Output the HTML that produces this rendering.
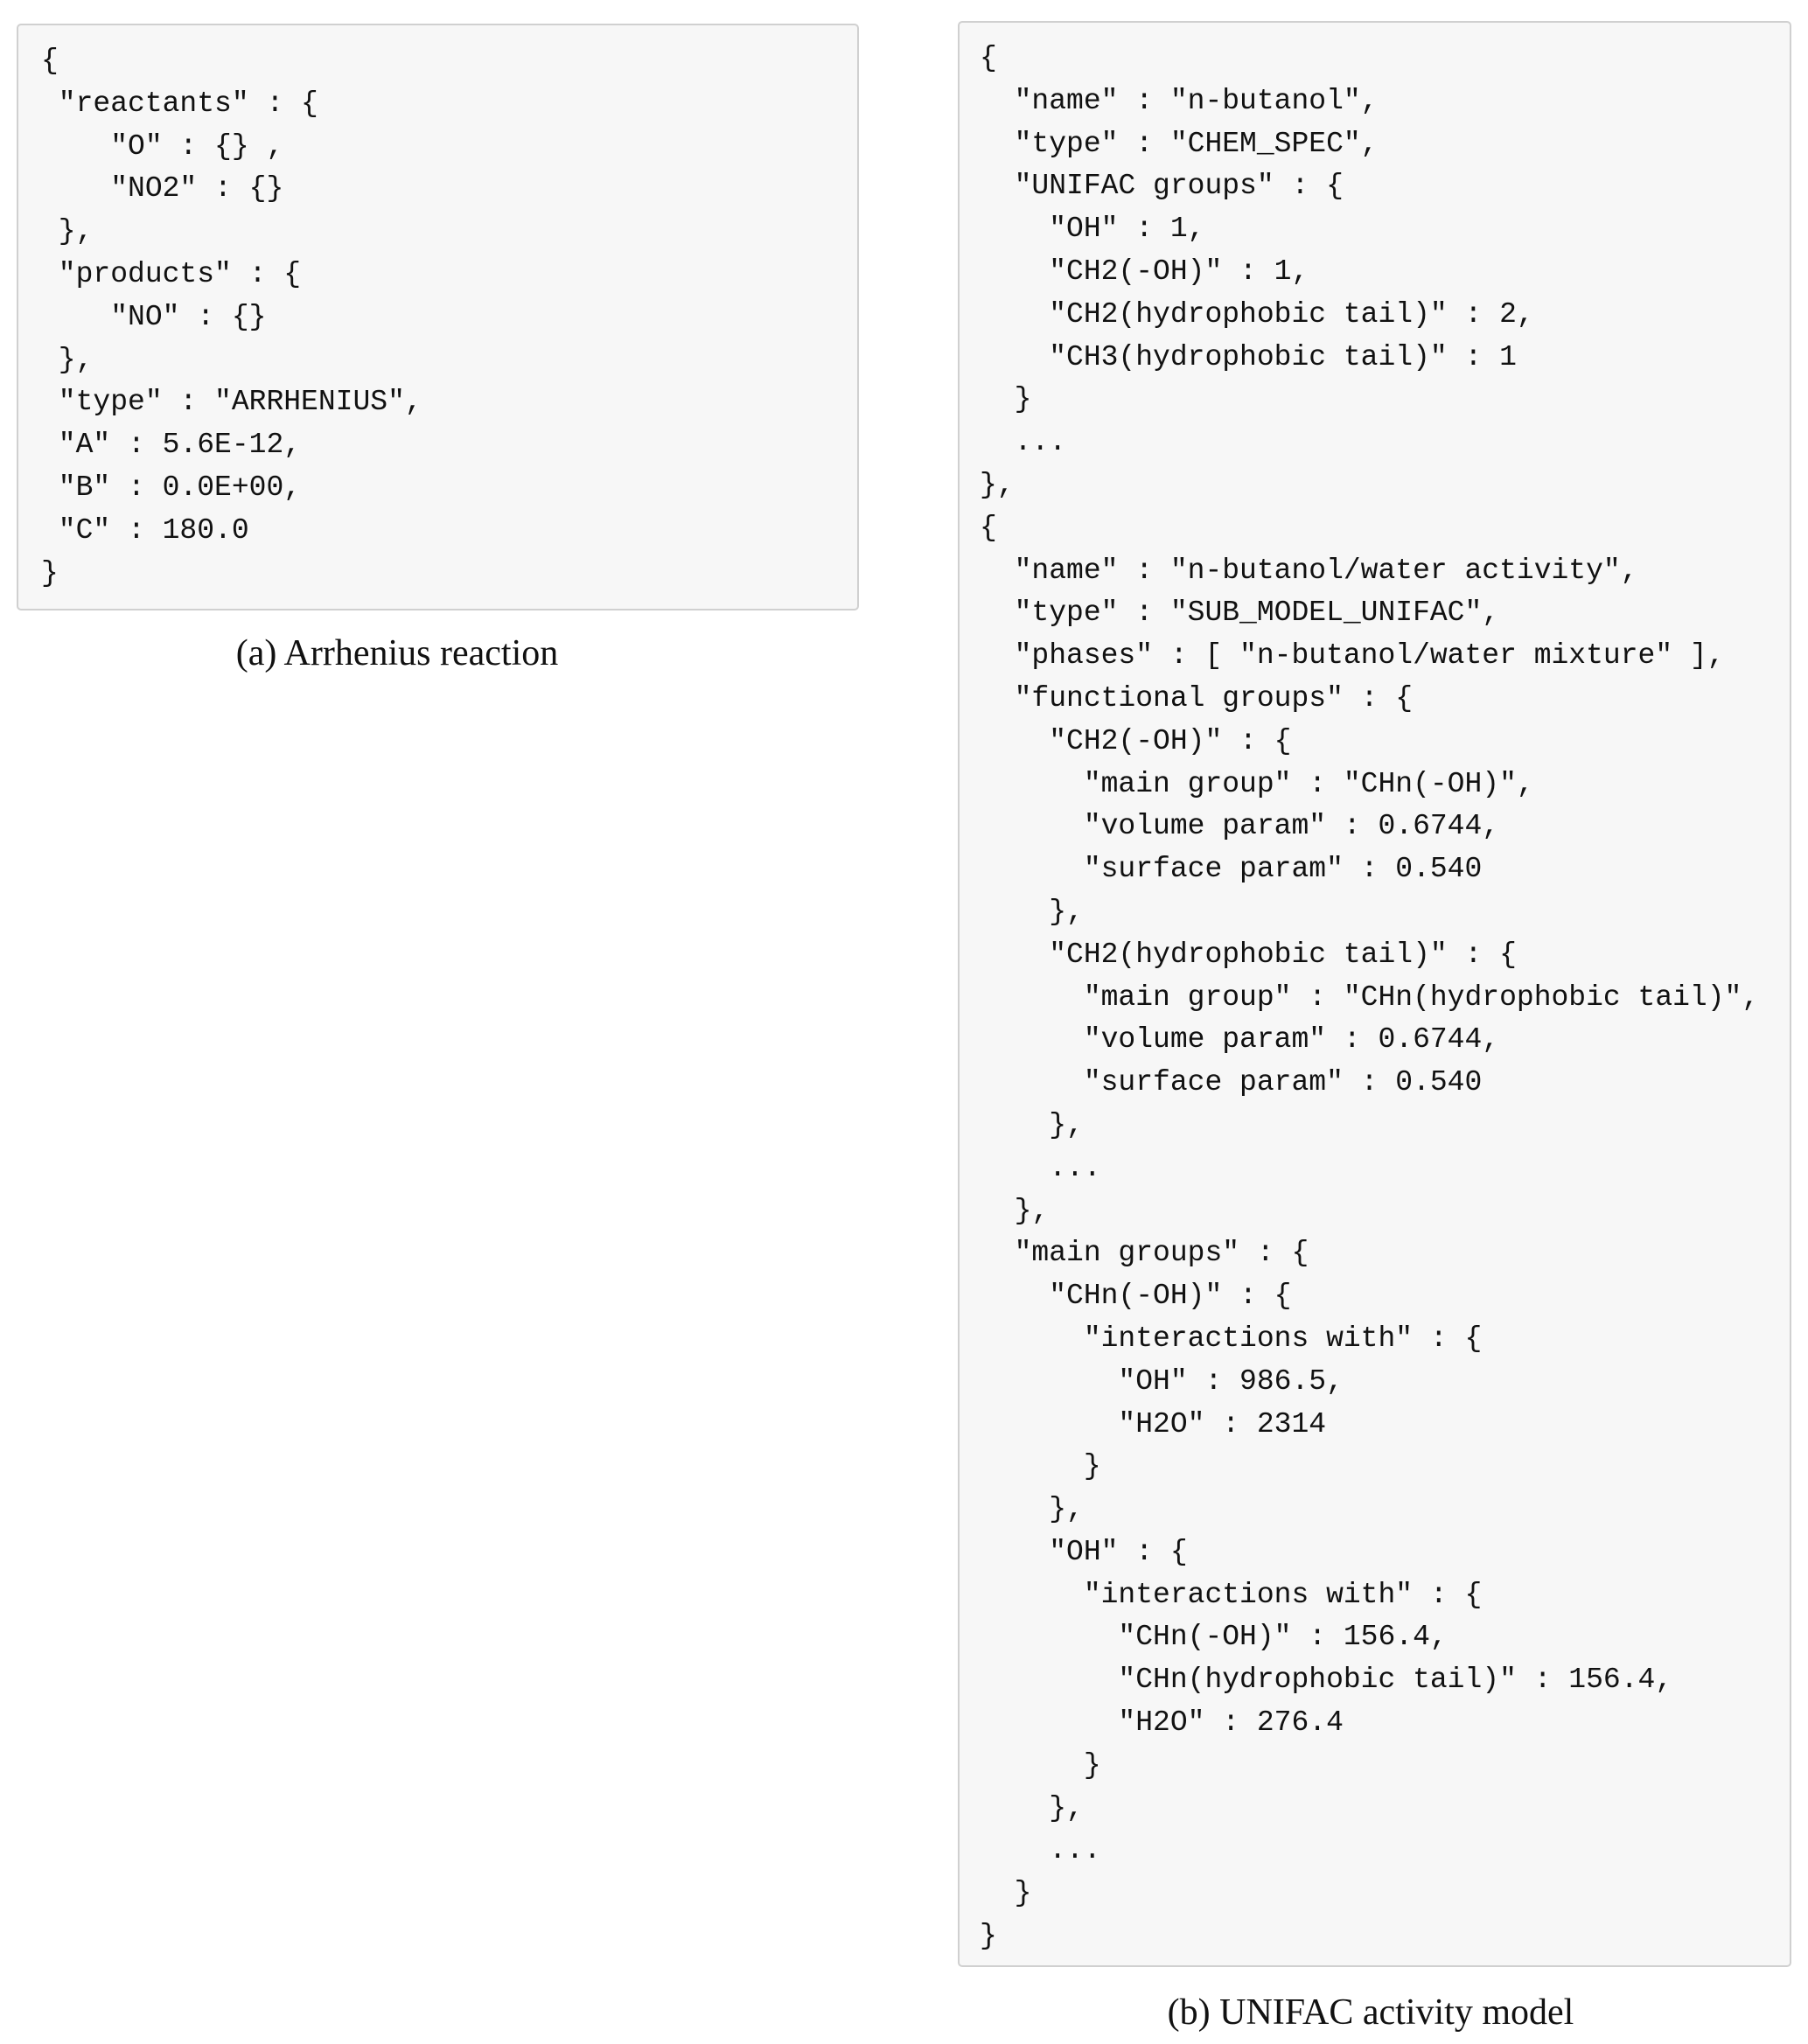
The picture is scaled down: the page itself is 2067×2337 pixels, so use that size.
<!DOCTYPE html>
<html><head><style>
body{margin:0;width:2067px;height:2337px;background:#fff;position:relative;overflow:hidden}
.box{position:absolute;background:#f7f7f7;border:2px solid #d0d0d0;border-radius:5px;box-sizing:border-box}
pre{position:absolute;margin:0;font-family:"Liberation Mono",monospace;font-size:33px;line-height:48.8px;color:#111}
.cap{position:absolute;font-family:"Liberation Serif",serif;font-size:42px;color:#111;text-align:center;white-space:nowrap}
</style></head><body>
<div class="box" style="left:19px;top:27px;width:963px;height:671px"></div>
<pre style="left:47px;top:46px">{
 "reactants" : {
    "O" : {} ,
    "NO2" : {}
 },
 "products" : {
    "NO" : {}
 },
 "type" : "ARRHENIUS",
 "A" : 5.6E-12,
 "B" : 0.0E+00,
 "C" : 180.0
}</pre>
<div class="cap" style="left:154px;width:600px;top:723px">(a) Arrhenius reaction</div>
<div class="box" style="left:1095px;top:24px;width:953px;height:2225px"></div>
<pre style="left:1120px;top:43px">{
  "name" : "n-butanol",
  "type" : "CHEM_SPEC",
  "UNIFAC groups" : {
    "OH" : 1,
    "CH2(-OH)" : 1,
    "CH2(hydrophobic tail)" : 2,
    "CH3(hydrophobic tail)" : 1
  }
  ...
},
{
  "name" : "n-butanol/water activity",
  "type" : "SUB_MODEL_UNIFAC",
  "phases" : [ "n-butanol/water mixture" ],
  "functional groups" : {
    "CH2(-OH)" : {
      "main group" : "CHn(-OH)",
      "volume param" : 0.6744,
      "surface param" : 0.540
    },
    "CH2(hydrophobic tail)" : {
      "main group" : "CHn(hydrophobic tail)",
      "volume param" : 0.6744,
      "surface param" : 0.540
    },
    ...
  },
  "main groups" : {
    "CHn(-OH)" : {
      "interactions with" : {
        "OH" : 986.5,
        "H2O" : 2314
      }
    },
    "OH" : {
      "interactions with" : {
        "CHn(-OH)" : 156.4,
        "CHn(hydrophobic tail)" : 156.4,
        "H2O" : 276.4
      }
    },
    ...
  }
}</pre>
<div class="cap" style="left:1267px;width:600px;top:2277px">(b) UNIFAC activity model</div>
</body></html>
